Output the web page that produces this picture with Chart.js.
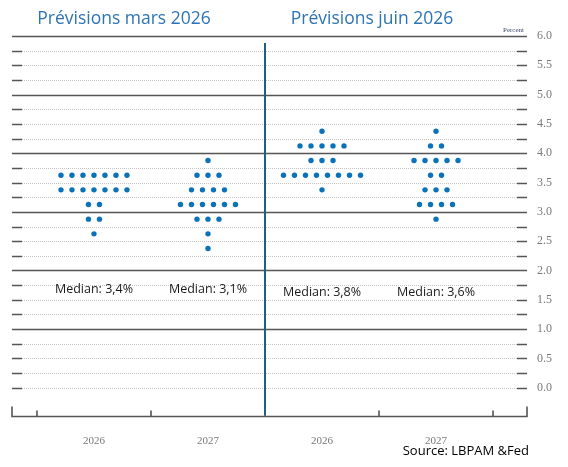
<!DOCTYPE html>
<html>
<head>
<meta charset="utf-8">
<script src="https://cdn.jsdelivr.net/npm/chart.js@4.4.1/dist/chart.umd.min.js"></script>
<style>
  html, body { margin: 0; padding: 0; background: #fff; }
</style>
</head>
<body>
<canvas id="dotPlot" width="568" height="467"></canvas>
<script>
// projections du taux des fed funds (milieu de fourchette), un point par participant
const categories = ["2026", "2027", "2026", "2027"];
const panelTitles = ["Prévisions mars 2026", "Prévisions juin 2026"];
const medianLabels = ["Median: 3,4%", "Median: 3,1%", "Median: 3,8%", "Median: 3,6%"];
const rateLevels = [4.375, 4.125, 3.875, 3.625, 3.375, 3.125, 2.875, 2.625, 2.375];
const marsDots2026 = [0, 0, 0, 7, 7, 2, 2, 1, 0];
const marsDots2027 = [0, 0, 1, 3, 4, 6, 3, 1, 1];
const juinDots2026 = [1, 5, 3, 8, 1, 0, 0, 0, 0];
const juinDots2027 = [1, 2, 5, 2, 3, 4, 1, 0, 0];
const yTickValues = [0, 0.5, 1, 1.5, 2, 2.5, 3, 3.5, 4, 4.5, 5, 5.5, 6];
const sourceText = "Source: LBPAM &Fed";

const dotGroups = [marsDots2026, marsDots2027, juinDots2026, juinDots2027];
const dotStep = 0.0965;

const toPoints = (counts, group) => {
  const pts = [];
  counts.forEach((n, k) => {
    for (let j = 0; j < n; j++) {
      pts.push({ x: group + (j - (n - 1) / 2) * dotStep, y: rateLevels[k] });
    }
  });
  return pts;
};

const dark = "#555";

const gridPlugin = {
  id: "fedGrid",
  beforeDatasetsDraw(chart) {
    const { ctx, chartArea: a, scales: { x, y } } = chart;
    ctx.save();
    for (let v = 0; v <= 6.001; v += 0.25) {
      const py = Math.round(y.getPixelForValue(v)) + 0.5;
      if (Number.isInteger(v) && v > 0) {
        ctx.strokeStyle = dark;
        ctx.lineWidth = 1.6;
        ctx.setLineDash([]);
        ctx.beginPath(); ctx.moveTo(a.left, py); ctx.lineTo(a.right, py); ctx.stroke();
      } else {
        ctx.strokeStyle = "#c4c4c4";
        ctx.lineWidth = 1;
        ctx.setLineDash([1, 1]);
        ctx.beginPath(); ctx.moveTo(a.left + 10, py); ctx.lineTo(a.right - 10, py); ctx.stroke();
        ctx.setLineDash([]);
        ctx.strokeStyle = dark;
        ctx.lineWidth = 1.6;
        ctx.beginPath();
        ctx.moveTo(a.left, py); ctx.lineTo(a.left + 10, py);
        ctx.moveTo(a.right - 10, py); ctx.lineTo(a.right, py);
        ctx.stroke();
      }
    }
    // axe du bas avec ses petites graduations
    const by = a.bottom - 0.5;
    ctx.strokeStyle = dark;
    ctx.lineWidth = 1.6;
    ctx.beginPath();
    ctx.moveTo(a.left, by - 10); ctx.lineTo(a.left, by);
    ctx.lineTo(a.right, by); ctx.lineTo(a.right, by - 10);
    for (let i = 0; i <= categories.length; i++) {
      const px = x.getPixelForValue(i - 0.5);
      ctx.moveTo(px, by); ctx.lineTo(px, by - 6);
    }
    ctx.stroke();
    // séparation mars / juin
    const sx = x.getPixelForValue(1.5);
    ctx.strokeStyle = "#1f5f86";
    ctx.lineWidth = 2;
    ctx.beginPath(); ctx.moveTo(sx, 43); ctx.lineTo(sx, a.bottom - 2); ctx.stroke();
    ctx.restore();
  },
  afterDraw(chart) {
    const { ctx, chartArea: a, scales: { x, y } } = chart;
    ctx.save();
    ctx.textBaseline = "middle";
    ctx.textAlign = "center";
    ctx.fillStyle = "#2e74b5";
    ctx.font = "17.5px 'Open Sans'";
    ctx.fillText(panelTitles[0], 124, 19);
    ctx.fillText(panelTitles[1], 372, 19);

    ctx.fillStyle = "#1a1a1a";
    ctx.font = "12.5px 'Open Sans'";
    medianLabels.forEach((t, i) => {
      ctx.fillText(t, x.getPixelForValue(i), y.getPixelForValue(i < 2 ? 1.67 : 1.62));
    });

    ctx.textAlign = "right";
    ctx.fillStyle = "#000";
    ctx.font = "13px 'Open Sans'";
    ctx.fillText(sourceText, 529, 451);

    ctx.fillStyle = "#3a4a6a";
    ctx.font = "7px 'Liberation Serif'";
    ctx.fillText("Percent", a.right - 3, 30);
    ctx.restore();
  }
};

new Chart(document.getElementById("dotPlot"), {
  type: "scatter",
  data: {
    datasets: dotGroups.map((counts, i) => ({
      label: categories[i],
      data: toPoints(counts, i),
      pointRadius: 2.7,
      pointHoverRadius: 2.7,
      pointBackgroundColor: "#0a72b8",
      pointBorderWidth: 0
    }))
  },
  options: {
    responsive: false,
    animation: false,
    layout: { padding: { left: 12, top: 36, right: 0, bottom: 0 } },
    plugins: { legend: { display: false }, tooltip: { enabled: false } },
    scales: {
      x: {
        type: "linear",
        min: -0.719,
        max: 3.798,
        grid: { display: false, drawTicks: false },
        border: { display: false },
        afterBuildTicks: (s) => { s.ticks = categories.map((c, i) => ({ value: i })); },
        afterFit: (s) => { s.height = 50; },
        ticks: {
          callback: (v) => categories[v],
          font: { family: "'Liberation Serif'", size: 11 },
          color: "#7a7a7a",
          padding: 18,
          maxRotation: 0,
          autoSkip: false
        }
      },
      y: {
        type: "linear",
        position: "right",
        min: -0.5,
        max: 6,
        grid: { display: false, drawTicks: false },
        border: { display: false },
        afterBuildTicks: (s) => { s.ticks = yTickValues.map((v) => ({ value: v })); },
        afterFit: (s) => { s.width = 41; },
        ticks: {
          callback: (v) => v.toFixed(1),
          font: { family: "'Liberation Serif'", size: 12 },
          color: "#7a7a7a",
          padding: 10
        }
      }
    }
  },
  plugins: [gridPlugin]
});
</script>
</body>
</html>
